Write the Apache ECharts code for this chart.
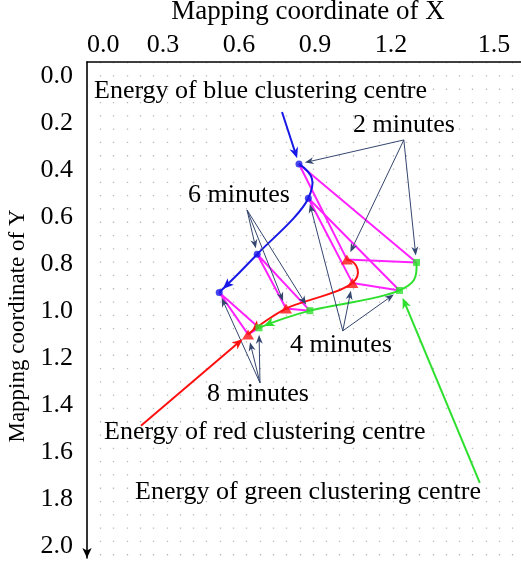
<!DOCTYPE html>
<html><head><meta charset="utf-8">
<script src="https://cdn.jsdelivr.net/npm/echarts@6/dist/echarts.min.js"></script>
<style>html,body{margin:0;padding:0;background:#fff}#c{width:521px;height:565px}</style>
</head><body><div id="c"></div>
<script>
// ---- data ----
const xTickLabels = ['0.0', '0.3', '0.6', '0.9', '1.2', '1.5'];
const yTickLabels = ['0.0', '0.2', '0.4', '0.6', '0.8', '1.0', '1.2', '1.4', '1.6', '1.8', '2.0'];
const timeLabels = ['2 minutes', '4 minutes', '6 minutes', '8 minutes'];
// clustering centre positions at 2, 4, 6, 8 minutes  [x, y]
const blueCentre  = [[0.837, 0.374], [0.874, 0.520], [0.672, 0.758], [0.522, 0.921]];
const redCentre   = [[1.026, 0.780], [1.048, 0.880], [0.786, 0.989], [0.636, 1.099]];
const greenCentre = [[1.301, 0.793], [1.234, 0.912], [0.880, 0.998], [0.679, 1.071]];
// start points of the callout arrows of the time labels (2, 4, 6, 8 minutes)
const timeCalloutStart = [[1.251, 0.272], [1.010, 1.084], [0.632, 0.570], [0.683, 1.305]];
// start points of the callout arrows of the centre labels, and the time index they point to
const blueCalloutStart = [0.770, 0.153];  const blueCalloutTarget = 0;
const redCalloutStart = [0.213, 1.488];   const redCalloutTarget = 3;
const greenCalloutStart = [1.551, 1.730]; const greenCalloutTarget = 1;

// ---- styles ----
const C_BLUE = '#1717e8', C_RED = '#ff1010', C_GREEN = '#2ee02e', C_MAG = '#ff22ff', C_NAVY = '#34466e';
const FONT = '"Liberation Serif", "Times New Roman", serif';

const chart = echarts.init(document.getElementById('c'), null, {renderer: 'canvas'});

const trajectories = [blueCentre, redCentre, greenCentre];
const trajColors = [C_BLUE, C_RED, C_GREEN];

function norm(v) { const l = Math.hypot(v[0], v[1]) || 1; return [v[0] / l, v[1] / l]; }
function sub(a, b) { return [a[0] - b[0], a[1] - b[1]]; }
function reflect(t, c) { const d = t[0] * c[0] + t[1] * c[1]; return [2 * d * c[0] - t[0], 2 * d * c[1] - t[1]]; }

function trajItem(params, api) {
  const pts = trajectories[params.dataIndex].map(p => api.coord(p));
  const color = trajColors[params.dataIndex];
  const n = pts.length;
  const T = [];
  for (let i = 1; i < n - 1; i++) T[i] = norm(sub(pts[i + 1], pts[i - 1]));
  T[0] = reflect(T[1], norm(sub(pts[1], pts[0])));
  T[n - 1] = reflect(T[n - 2], norm(sub(pts[n - 1], pts[n - 2])));
  const hs = [0.5, 0.25, 0.25];
  const children = [];
  for (let i = 0; i < n - 1; i++) {
    const d = Math.hypot(pts[i + 1][0] - pts[i][0], pts[i + 1][1] - pts[i][1]);
    const h = hs[i] * d;
    children.push({
      type: 'bezierCurve',
      shape: {
        x1: pts[i][0], y1: pts[i][1], x2: pts[i + 1][0], y2: pts[i + 1][1],
        cpx1: pts[i][0] + T[i][0] * h, cpy1: pts[i][1] + T[i][1] * h,
        cpx2: pts[i + 1][0] - T[i + 1][0] * h, cpy2: pts[i + 1][1] - T[i + 1][1] * h
      },
      style: {stroke: color, lineWidth: 2, fill: 'none'}
    });
  }
  const u = T[n - 1];
  const end = pts[n - 1];
  const tip = [end[0] - u[0] * 5, end[1] - u[1] * 5];
  const hl = 11, hw = 4.5;
  const base = [tip[0] - u[0] * hl, tip[1] - u[1] * hl];
  const nx = -u[1], ny = u[0];
  children.push({
    type: 'polygon',
    shape: {points: [tip, [base[0] + nx * hw, base[1] + ny * hw], [tip[0] - u[0] * hl * 0.75, tip[1] - u[1] * hl * 0.75], [base[0] - nx * hw, base[1] - ny * hw]]},
    style: {fill: color}
  });
  return {type: 'group', children};
}

// callout arrows
const arrowList = [];
const centresByTime = t => [blueCentre[t], redCentre[t], greenCentre[t]];
const gapsByCluster = [6, 8, 7];
timeCalloutStart.forEach((s, t) => {
  centresByTime(t).forEach((p, k) => {
    arrowList.push({from: s, to: p, gap: gapsByCluster[k], color: C_NAVY, width: 1, head: [9, 3.5]});
  });
});
arrowList.push({from: blueCalloutStart, to: blueCentre[blueCalloutTarget], gap: 6, color: C_BLUE, width: 2, head: [11, 4.5]});
arrowList.push({from: redCalloutStart, to: redCentre[redCalloutTarget], gap: 7, color: C_RED, width: 2, head: [11, 4.5]});
arrowList.push({from: greenCalloutStart, to: greenCentre[greenCalloutTarget], gap: 8, color: C_GREEN, width: 2, head: [11, 4.5]});

function arrowItem(params, api) {
  const s = arrowList[params.dataIndex];
  const a = api.coord([api.value(0), api.value(1)]);
  const b = api.coord([api.value(2), api.value(3)]);
  const u = norm(sub(b, a));
  const tip = [b[0] - u[0] * s.gap, b[1] - u[1] * s.gap];
  const hl = s.head[0], hw = s.head[1];
  const base = [tip[0] - u[0] * hl, tip[1] - u[1] * hl];
  const nx = -u[1], ny = u[0];
  return {type: 'group', children: [
    {type: 'line', shape: {x1: a[0], y1: a[1], x2: tip[0] - u[0] * hl * 0.6, y2: tip[1] - u[1] * hl * 0.6},
     style: {stroke: s.color, lineWidth: s.width}},
    {type: 'polygon', shape: {points: [tip, [base[0] + nx * hw, base[1] + ny * hw], [tip[0] - u[0] * hl * 0.7, tip[1] - u[1] * hl * 0.7], [base[0] - nx * hw, base[1] - ny * hw]]},
     style: {fill: s.color}}
  ]};
}

const magentaSeries = timeLabels.map((name, t) => ({
  type: 'line', name: name, xAxisIndex: 0, yAxisIndex: 0,
  data: [blueCentre[t], redCentre[t], greenCentre[t], blueCentre[t]],
  symbol: 'none', lineStyle: {color: C_MAG, width: 2}, z: 2, silent: true
}));

const textStyleBase = {fontFamily: FONT, fill: '#000'};
const noteTexts = [
  {text: 'Energy of blue clustering centre', x: 94, y: 91},
  {text: timeLabels[0], x: 353, y: 125},
  {text: timeLabels[2], x: 188, y: 195},
  {text: timeLabels[1], x: 290, y: 345},
  {text: timeLabels[3], x: 207, y: 394},
  {text: 'Energy of red clustering centre', x: 104, y: 432},
  {text: 'Energy of green clustering centre', x: 135, y: 492}
];

const option = {
  animation: false,
  backgroundColor: '#fff',
  grid: [
    {left: 87, right: 6, top: 76, bottom: 7, outerBoundsMode: 'none'},
    {left: 87, right: 0, top: 62, bottom: 7, outerBoundsMode: 'none'}
  ],
  xAxis: [
    {
      gridIndex: 0, type: 'value', position: 'top', offset: 14, min: 0, max: 1.69, interval: 0.3,
      axisLine: {show: false}, axisTick: {show: false}, splitLine: {show: false},
      axisLabel: {
        fontFamily: FONT, fontSize: 26, color: '#000', margin: 4, alignMinLabel: 'left',
        formatter: (v, i) => i === 5 ? '{s|' + xTickLabels[i] + '}' : (xTickLabels[i] || ''),
        rich: {s: {fontFamily: FONT, fontSize: 26, color: '#000', padding: [0, 0, 0, 54]}}
      },
      name: 'Mapping coordinate of X', nameLocation: 'middle', nameGap: 37,
      nameTextStyle: {fontFamily: FONT, fontSize: 27, color: '#000', padding: [0, 0, 0, 14]}
    },
    {
      gridIndex: 1, type: 'value', position: 'top', min: 0, max: 32.63, interval: 1,
      axisLine: {show: true, lineStyle: {color: '#000', width: 1.6}},
      axisTick: {show: false}, axisLabel: {show: false},
      splitLine: {show: true, showMinLine: false, showMaxLine: false,
        lineStyle: {color: '#b8b8b8', width: 1.3, type: [1.3, 12]}}
    }
  ],
  yAxis: [
    {
      gridIndex: 0, type: 'value', inverse: true, min: 0, max: 2.05, interval: 0.2,
      axisLine: {show: false}, axisTick: {show: false}, splitLine: {show: false},
      axisLabel: {fontFamily: FONT, fontSize: 26, color: '#000', margin: 14,
        formatter: (v, i) => yTickLabels[i] || ''},
      name: 'Mapping coordinate of Y', nameLocation: 'middle', nameGap: 48,
      nameTextStyle: {fontFamily: FONT, fontSize: 23, color: '#000', padding: [0, 18, 0, 0]}
    },
    {
      gridIndex: 1, type: 'value', inverse: true, min: 0, max: 1,
      axisLine: {show: true, symbol: ['arrow', 'none'], symbolSize: [7, 10], lineStyle: {color: '#000', width: 1.6}},
      axisTick: {show: false}, axisLabel: {show: false}, splitLine: {show: false}
    }
  ],
  series: [
    ...magentaSeries,
    {
      type: 'custom', name: 'trajectories', xAxisIndex: 0, yAxisIndex: 0, z: 3, silent: true,
      renderItem: trajItem,
      data: trajectories.map(tr => tr[0])
    },
    {
      type: 'custom', name: 'callouts', xAxisIndex: 0, yAxisIndex: 0, z: 4, silent: true,
      renderItem: arrowItem,
      data: arrowList.map(a => [a.from[0], a.from[1], a.to[0], a.to[1]])
    },
    {type: 'scatter', name: 'blue', data: blueCentre, symbol: 'circle', symbolSize: 7,
     itemStyle: {color: C_BLUE}, z: 5, silent: true},
    {type: 'scatter', name: 'red', data: redCentre, symbol: 'triangle', symbolSize: [12, 10],
     itemStyle: {color: C_RED}, z: 5, silent: true},
    {type: 'scatter', name: 'green', data: greenCentre, symbol: 'rect', symbolSize: 7,
     itemStyle: {color: C_GREEN}, z: 5, silent: true}
  ],
  graphic: noteTexts.map(n => ({
    type: 'text', x: n.x, y: n.y, z: 10, silent: true,
    style: Object.assign({text: n.text, fontSize: 26, verticalAlign: 'middle', align: 'left'}, textStyleBase)
  }))
};
chart.setOption(option);
</script></body></html>
